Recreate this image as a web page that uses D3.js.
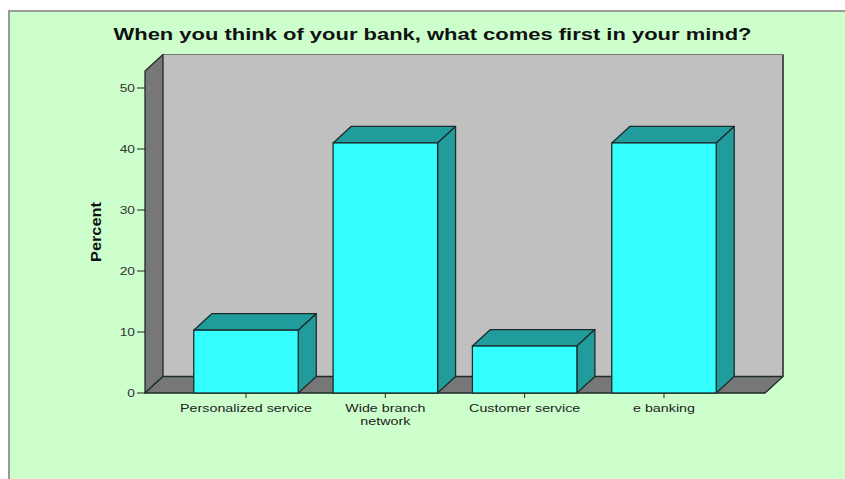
<!DOCTYPE html>
<html>
<head>
<meta charset="utf-8">
<script src="https://cdn.jsdelivr.net/npm/d3@7"></script>
<style>
  html, body { margin: 0; padding: 0; background: #ffffff; }
  svg { display: block; }
  text { font-family: "Liberation Sans", Arial, sans-serif; }
</style>
</head>
<body>
<svg id="chart" width="845" height="479"></svg>
<script>
// Survey answers: share of respondents (%) per first association with their bank
const categories = ["Personalized service", "Wide branch network", "Customer service", "e banking"];
const categoryLines = [["Personalized service"], ["Wide branch", "network"], ["Customer service"], ["e banking"]];
const percents = [10.3, 41.0, 7.7, 41.0];
const yTicks = [0, 10, 20, 30, 40, 50];
const titleText = "When you think of your bank, what comes first in your mind?";
const yAxisTitle = "Percent";

const W = 845, H = 479;
const svg = d3.select("#chart");

// Panel background with its frame
svg.append("rect").attr("x", 8).attr("y", 10).attr("width", W - 8).attr("height", H - 10)
  .attr("fill", "#ccffcc");
svg.append("path").attr("d", `M9,${H} L9,11 L${W},11`)
  .attr("fill", "none").attr("stroke", "#9a9a9a").attr("stroke-width", 2);

// Scales for the front plane of the 3D box
const x = d3.scaleBand().domain(categories).range([145, 765])
  .paddingInner(0.25).paddingOuter(0.35);
const y = d3.scaleLinear().domain([0, 50]).range([393, 88]);

// Depth offset of the 3D box
const dx = 18, dy = 16.5;
const x0 = x.range()[0], x1 = x.range()[1];
const yBase = y(0);
const yTop = y(50) - 17;
const edge = "#1e2b2b";

// Back wall
svg.append("rect")
  .attr("x", x0 + dx).attr("y", yTop - dy)
  .attr("width", x1 - x0).attr("height", (yBase - dy) - (yTop - dy))
  .attr("fill", "#c0c0c0");
svg.append("path")
  .attr("d", `M${x0 + dx},${yTop - dy} L${x1 + dx},${yTop - dy} L${x1 + dx},${yBase - dy}`)
  .attr("fill", "none").attr("stroke", "#7a7a7a").attr("stroke-width", 1);
svg.append("line")
  .attr("x1", x1 + dx).attr("x2", x1 + dx).attr("y1", yTop - dy).attr("y2", yBase - dy)
  .attr("stroke", "#333").attr("stroke-width", 1.5);

// Left wall
svg.append("path")
  .attr("d", `M${x0},${yBase} L${x0},${yTop} L${x0 + dx},${yTop - dy} L${x0 + dx},${yBase - dy} Z`)
  .attr("fill", "#777777").attr("stroke", edge).attr("stroke-width", 1.3)
  .attr("stroke-linejoin", "round");

// Floor
svg.append("path")
  .attr("d", `M${x0},${yBase} L${x0 + dx},${yBase - dy} L${x1 + dx},${yBase - dy} L${x1},${yBase} Z`)
  .attr("fill", "#777777").attr("stroke", edge).attr("stroke-width", 1.3)
  .attr("stroke-linejoin", "round");

// Bars as 3D boxes
const bars = svg.append("g").selectAll("g").data(categories).join("g");
bars.each(function (c, i) {
  const g = d3.select(this);
  const bx0 = x(c), bx1 = x(c) + x.bandwidth();
  const by = y(percents[i]);
  g.append("path")
    .attr("d", `M${bx0},${by} L${bx0 + dx},${by - dy} L${bx1 + dx},${by - dy} L${bx1},${by} Z`)
    .attr("fill", "#209c9c").attr("stroke", edge).attr("stroke-width", 1.3).attr("stroke-linejoin", "round");
  g.append("path")
    .attr("d", `M${bx1},${by} L${bx1 + dx},${by - dy} L${bx1 + dx},${yBase - dy} L${bx1},${yBase} Z`)
    .attr("fill", "#209c9c").attr("stroke", edge).attr("stroke-width", 1.3).attr("stroke-linejoin", "round");
  g.append("rect")
    .attr("x", bx0).attr("y", by).attr("width", bx1 - bx0).attr("height", yBase - by)
    .attr("fill", "#33ffff").attr("stroke", edge).attr("stroke-width", 1.3);
});

// Y axis ticks and labels
const yAxis = svg.append("g");
yAxis.selectAll("line").data(yTicks).join("line")
  .attr("x1", x0 - 8).attr("x2", x0).attr("y1", d => y(d)).attr("y2", d => y(d))
  .attr("stroke", "#222").attr("stroke-width", 1);
yAxis.selectAll("text").data(yTicks).join("text")
  .attr("transform", d => `translate(${x0 - 10},${y(d) + 4}) scale(1.2,1)`)
  .attr("text-anchor", "end").attr("font-size", 11.5).attr("fill", "#333")
  .text(d => d);

// Category ticks and labels (one text per line, widened around its center)
const xAxis = svg.append("g");
xAxis.selectAll("line").data(categories).join("line")
  .attr("x1", d => x(d) + x.bandwidth() / 2).attr("x2", d => x(d) + x.bandwidth() / 2)
  .attr("y1", yBase).attr("y2", yBase + 5)
  .attr("stroke", "#222").attr("stroke-width", 1);
const labelRows = categories.flatMap((c, i) =>
  categoryLines[i].map((line, k) => ({ c, line, k })));
xAxis.selectAll("text").data(labelRows).join("text")
  .attr("transform", d =>
    `translate(${x(d.c) + x.bandwidth() / 2},${yBase + 19 + d.k * 12.5}) scale(1.3,1)`)
  .attr("text-anchor", "middle").attr("font-size", 11).attr("fill", "#222")
  .text(d => d.line);

// Y axis title
svg.append("text")
  .attr("transform", `translate(101,232) rotate(-90)`)
  .attr("text-anchor", "middle").attr("font-size", 15).attr("font-weight", "bold")
  .attr("textLength", 60).attr("lengthAdjust", "spacingAndGlyphs")
  .attr("fill", "#111")
  .text(yAxisTitle);

// Chart title
svg.append("text")
  .attr("x", 432.5).attr("y", 39.5)
  .attr("text-anchor", "middle").attr("font-size", 16).attr("font-weight", "bold")
  .attr("textLength", 638).attr("lengthAdjust", "spacingAndGlyphs")
  .attr("fill", "#111")
  .text(titleText);
</script>
</body>
</html>
